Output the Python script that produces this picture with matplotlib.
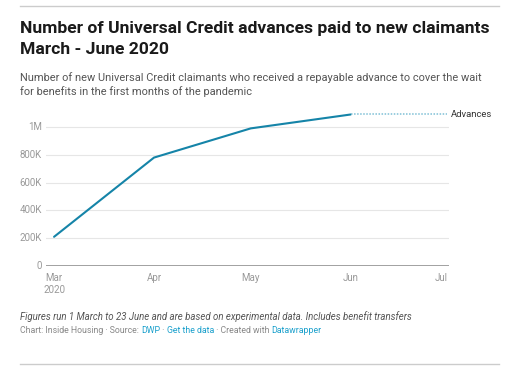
import matplotlib
matplotlib.use("Agg")
import matplotlib.pyplot as plt
import matplotlib.dates as mdates
import pandas as pd

plt.rcParams['font.family'] = ['Roboto', 'DejaVu Sans']

dates = pd.to_datetime(["2020-03-01", "2020-04-01", "2020-05-01", "2020-06-01"])
advances = [210000, 780000, 990000, 1090000]
series_label = "Advances"
tick_dates = pd.to_datetime(["2020-03-01", "2020-04-01", "2020-05-01", "2020-06-01", "2020-07-01"])
tick_labels = ["Mar\n2020", "Apr", "May", "Jun", "Jul"]
y_ticks = [0, 200000, 400000, 600000, 800000, 1000000]
y_labels = ["0", "200K", "400K", "600K", "800K", "1M"]

W, H = 521, 375
fig = plt.figure(figsize=(W / 100, H / 100), dpi=100)

def fx(px):
    return px / W

def fy(py):
    return 1 - py / H

# top and bottom rules
fig.add_artist(plt.Line2D([fx(20), fx(499)], [fy(6), fy(6)], color="#cccccc", lw=1))
fig.add_artist(plt.Line2D([fx(20), fx(499)], [fy(364), fy(364)], color="#cccccc", lw=1))

fig.text(fx(20), fy(33), "Number of Universal Credit advances paid to new claimants",
         fontsize=12.6, fontweight="bold", color="#1a1a1a", va="baseline")
fig.text(fx(20), fy(54), "March - June 2020",
         fontsize=12.6, fontweight="bold", color="#1a1a1a", va="baseline")
fig.text(fx(20), fy(81), "Number of new Universal Credit claimants who received a repayable advance to cover the wait",
         fontsize=7.9, color="#555555", va="baseline")
fig.text(fx(20), fy(95), "for benefits in the first months of the pandemic",
         fontsize=7.9, color="#555555", va="baseline")

fig.text(fx(20), fy(320), "Figures run 1 March to 23 June and are based on experimental data. Includes benefit transfers",
         fontsize=6.95, color="#555555", style="italic", va="baseline")

# credit line with links
parts = [("Chart: Inside Housing \u00b7 Source: ", "#888888"), ("DWP", "#1ba0cc"),
         (" \u00b7 ", "#888888"), ("Get the data", "#1ba0cc"),
         (" \u00b7 Created with ", "#888888"), ("Datawrapper", "#1ba0cc")]
fig.canvas.draw()
renderer = fig.canvas.get_renderer()
xpos = fx(20)
for txt, col in parts:
    t = fig.text(xpos, fy(333), txt, fontsize=6.35, color=col, va="baseline")
    bb = t.get_window_extent(renderer=renderer)
    xpos += bb.width / W

ax = fig.add_axes([fx(46), fy(266), fx(449) - fx(46), fy(100) - fy(266)])
# 0 at y=266 px and 1M at y=127 px
ax.set_ylim(0, 1000000 * (266 - 100) / (266 - 127))

ax.plot(dates, advances, color="#1584a8", lw=1.5, solid_capstyle="round", zorder=3)
x0 = mdates.date2num(pd.Timestamp("2020-02-27 12:00"))
x1 = mdates.date2num(pd.Timestamp("2020-07-01 12:00"))
ax.set_xlim(x0, x1)
ax.plot([dates[-1], tick_dates[-1]], [advances[-1], advances[-1]], color="#7fc0d6",
        lw=1.1, ls=(0, (1, 1)), zorder=3)
ax.text(1.005, advances[-1], series_label, transform=ax.get_yaxis_transform(),
        fontsize=6.8, color="#333333", va="center", ha="left")

for s in ax.spines.values():
    s.set_visible(False)
ax.set_yticks(y_ticks)
ax.set_yticklabels(y_labels)
ax.grid(axis="y", color="#e6e6e6", lw=0.8)
ax.axhline(0, color="#888888", lw=1.1, zorder=2)
ax.set_xticks(tick_dates)
ax.set_xticklabels(tick_labels, linespacing=1.3)
ax.tick_params(axis="both", length=0, labelsize=7, labelcolor="#999999")
ax.tick_params(axis="y", pad=3)
ax.tick_params(axis="x", pad=5)
for lab in ax.get_yticklabels():
    lab.set_verticalalignment("center")
xl = ax.get_xticklabels()
xl[-1].set_horizontalalignment("right")

fig.savefig("out.png", dpi=100, facecolor="white")
